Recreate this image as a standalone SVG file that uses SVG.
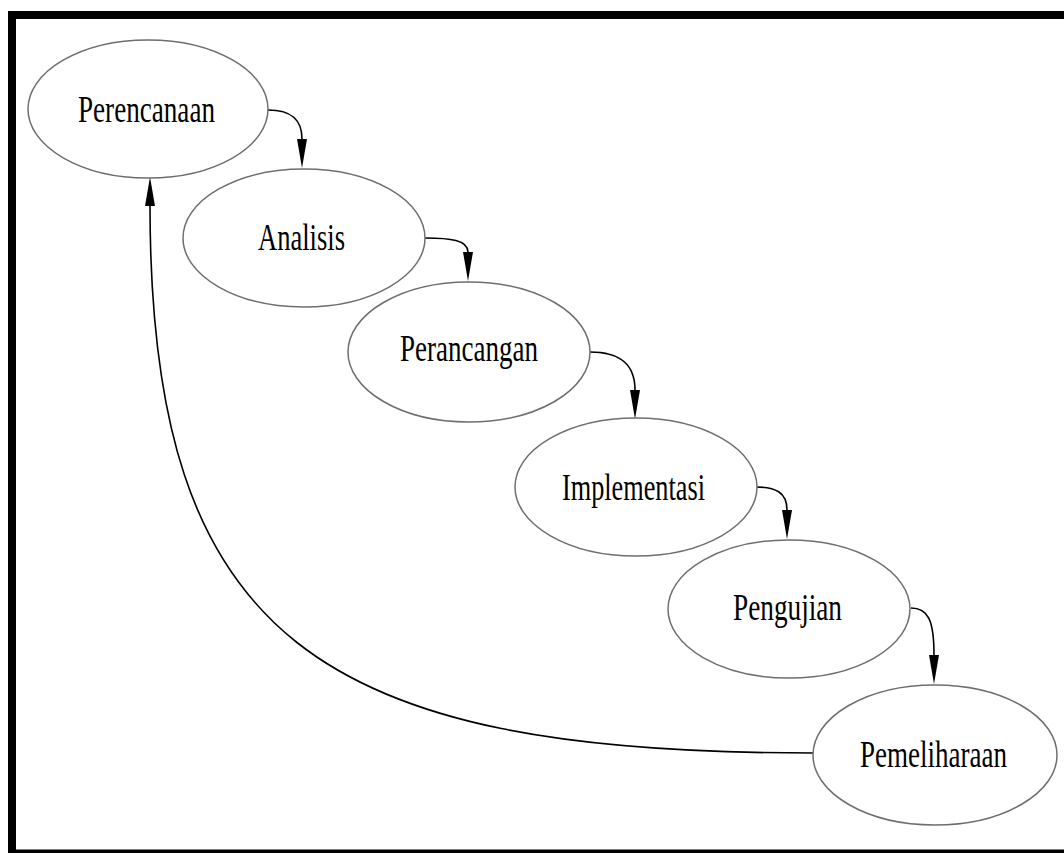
<svg xmlns="http://www.w3.org/2000/svg" width="1064" height="853" viewBox="0 0 1064 853">
<style>
.node ellipse{fill:#fff;stroke:#6e6e6e;stroke-width:1.5}
.node text{font-family:"Liberation Serif","Times New Roman",serif;font-size:38px;fill:#000;text-anchor:middle}
.edge{fill:none;stroke:#000;stroke-width:1.6}
</style>
<defs>
<marker id="ah" markerUnits="userSpaceOnUse" markerWidth="32" markerHeight="14" viewBox="0 -7 32 14" refX="0" refY="0" orient="auto">
<path d="M0,-5 L29,0 L0,5 z" fill="#000"/>
</marker>
</defs>
<rect x="0" y="0" width="1064" height="853" fill="#fff"/>
<path d="M12,853 V15 H1064 M12,853.5 H1064" fill="none" stroke="#000" stroke-width="8"/>
<g id="connectors">
<path class="edge" marker-end="url(#ah)" d="M268,110 C292,110 302,120 302,139"/>
<path class="edge" marker-end="url(#ah)" d="M425,238 C450,238 468,240 468,252"/>
<path class="edge" marker-end="url(#ah)" d="M590,352 C615,352 635,360 635,390"/>
<path class="edge" marker-end="url(#ah)" d="M756,487 C775,487 787,492 787,510"/>
<path class="edge" marker-end="url(#ah)" d="M911,608 C928,608 934,620 934,655"/>
<path class="edge" marker-end="url(#ah)" d="M813,753 C320,753 150,640 150,206"/>
</g>
<g id="n1" class="node"><ellipse cx="148" cy="109" rx="120" ry="69"/><text x="146.5" y="122" textLength="137" lengthAdjust="spacingAndGlyphs">Perencanaan</text></g>
<g id="n2" class="node"><ellipse cx="304" cy="238" rx="121" ry="69"/><text x="301.5" y="250" textLength="87" lengthAdjust="spacingAndGlyphs">Analisis</text></g>
<g id="n3" class="node"><ellipse cx="469" cy="352" rx="121" ry="70"/><text x="469" y="361" textLength="138" lengthAdjust="spacingAndGlyphs">Perancangan</text></g>
<g id="n4" class="node"><ellipse cx="636" cy="487" rx="121" ry="69"/><text x="633.5" y="500" textLength="143" lengthAdjust="spacingAndGlyphs">Implementasi</text></g>
<g id="n5" class="node"><ellipse cx="789" cy="609" rx="121" ry="69"/><text x="787.5" y="620" textLength="109" lengthAdjust="spacingAndGlyphs">Pengujian</text></g>
<g id="n6" class="node"><ellipse cx="935" cy="755" rx="122" ry="70"/><text x="933.5" y="767" textLength="147" lengthAdjust="spacingAndGlyphs">Pemeliharaan</text></g>
</svg>
